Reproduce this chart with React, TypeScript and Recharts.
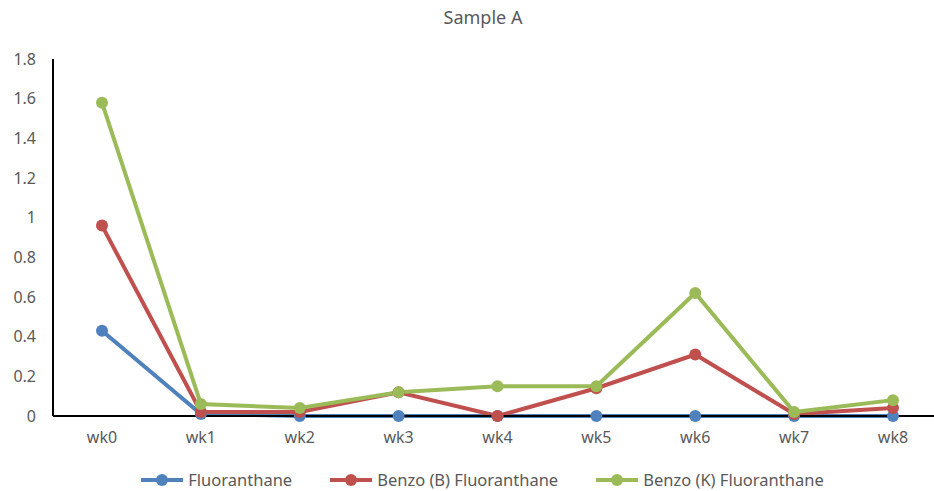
import { Legend, Line, LineChart, XAxis, YAxis } from "recharts";

const WEEKS = ["wk0", "wk1", "wk2", "wk3", "wk4", "wk5", "wk6", "wk7", "wk8"];
const FLUORANTHANE = [0.43, 0.01, 0, 0, 0, 0, 0, 0, 0];
const BENZO_B = [0.96, 0.02, 0.02, 0.12, 0, 0.14, 0.31, 0.01, 0.04];
const BENZO_K = [1.58, 0.06, 0.04, 0.12, 0.15, 0.15, 0.62, 0.02, 0.08];
const Y_TICKS = [0, 0.2, 0.4, 0.6, 0.8, 1, 1.2, 1.4, 1.6, 1.8];

const SERIES = [
  { key: "fluor", name: "Fluoranthane", color: "#4F81BD" },
  { key: "benzoB", name: "Benzo (B) Fluoranthane", color: "#C0504D" },
  { key: "benzoK", name: "Benzo (K) Fluoranthane", color: "#9BBB59" },
];

const data = WEEKS.map((wk, i) => ({
  wk,
  fluor: FLUORANTHANE[i],
  benzoB: BENZO_B[i],
  benzoK: BENZO_K[i],
}));

const FONT = "Noto Sans, sans-serif";
const GREY = "#595959";

function LegendRow() {
  return (
    <div
      style={{
        display: "flex",
        justifyContent: "center",
        gap: 37,
        fontFamily: FONT,
        fontSize: 16.5,
        color: GREY,
        width: 934,
        paddingLeft: 30,
        boxSizing: "border-box",
      }}
    >
      {SERIES.map((s) => (
        <span key={s.key} style={{ display: "inline-flex", alignItems: "center", gap: 4 }}>
          <svg width={44} height={14}>
            <line x1={1} y1={7} x2={43} y2={7} stroke={s.color} strokeWidth={4} />
            <circle cx={22} cy={7} r={6} fill={s.color} />
          </svg>
          {s.name}
        </span>
      ))}
    </div>
  );
}

export default function App() {
  return (
    <div style={{ width: 934, height: 491, overflow: "hidden", position: "relative", background: "#fff" }}>
      <style>{"body{margin:0}"}</style>
      <div
        style={{
          position: "absolute",
          top: 5,
          left: 0,
          width: 966,
          textAlign: "center",
          fontFamily: FONT,
          fontSize: 18,
          color: GREY,
        }}
      >
        Sample A
      </div>
      <LineChart
        width={942}
        height={491}
        data={data}
        margin={{ top: 59, right: 0, bottom: 0, left: 0 }}
      >
        <XAxis
          dataKey="wk"
          padding={{ left: 49, right: 49 }}
          axisLine={{ stroke: "#000", strokeWidth: 2 }}
          tickLine={false}
          tickSize={0}
          tickMargin={16}
          height={52}
          tick={{ fill: GREY, fontSize: 16, fontFamily: FONT }}
        />
        <YAxis
          domain={[0, 1.8]}
          ticks={Y_TICKS}
          tickFormatter={(v: number) => String(v)}
          axisLine={{ stroke: "#000", strokeWidth: 2 }}
          tickLine={false}
          tickSize={0}
          tickMargin={17}
          width={53}
          tick={{ fill: GREY, fontSize: 16, fontFamily: FONT }}
        />
        <Legend verticalAlign="bottom" height={23} content={() => <LegendRow />} />
        {SERIES.map((s) => (
          <Line
            key={s.key}
            dataKey={s.key}
            name={s.name}
            stroke={s.color}
            strokeWidth={4}
            dot={{ r: 6, fill: s.color, stroke: s.color, strokeWidth: 0 }}
            isAnimationActive={false}
          />
        ))}
      </LineChart>
    </div>
  );
}
